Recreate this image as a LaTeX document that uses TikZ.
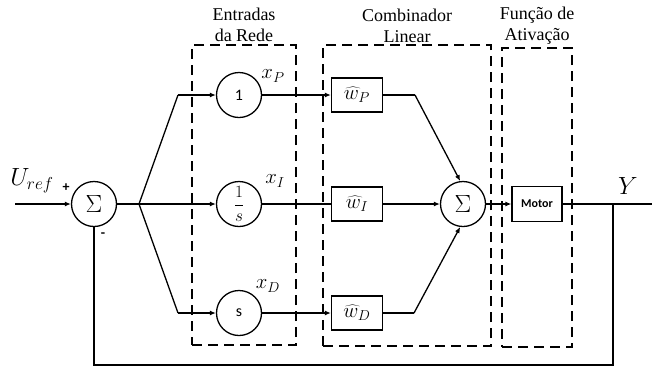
\documentclass[tikz,border=0pt]{standalone}
\usepackage{fontspec}
\setmainfont{Liberation Serif}
\newfontfamily\tms{Liberation Serif}
\newfontfamily\calib{Carlito}
\usetikzlibrary{arrows.meta}
\begin{document}
\begin{tikzpicture}[x=1pt,y=-1pt,line width=1.3pt,
  >={Latex[length=6pt,width=5pt]},
  sumc/.style={draw,circle,minimum size=45pt,inner sep=0pt,font=\fontsize{26}{26}\selectfont},
  inc/.style={draw,circle,minimum size=45pt,inner sep=0pt,font=\calib\fontsize{16}{16}\selectfont},
  wbox/.style={draw,rectangle,minimum width=51pt,minimum height=34pt,inner sep=0pt,font=\fontsize{21}{21}\selectfont},
  dbox/.style={draw,dashed,dash pattern=on 10pt off 6pt,line width=1.4pt,inner sep=0pt},
  ttl/.style={align=center,font=\tms\fontsize{18}{21}\selectfont,inner sep=0pt},
  lbl/.style={inner sep=0pt,font=\fontsize{21}{21}\selectfont}]
\useasboundingbox (0,0) rectangle (652,368);
% dashed groups
\node[dbox,minimum width=104pt,minimum height=300pt] (g1) at (244,195) {};
\node[dbox,minimum width=168pt,minimum height=301pt] (g2) at (407,195.5) {};
\node[dbox,minimum width=70pt,minimum height=299pt] (g3) at (537,197.5) {};
\node[ttl] (t1) at (244,25) {Entradas\\da Rede};
\node[ttl] (t2) at (407,26) {Combinador\\Linear};
\node[ttl] (t3) at (537,26) {Função de\\Ativação};
% blocks
\node[sumc] (s1) at (94,204) {$\Sigma$};
\node[inc] (cP) at (239,95) {1};
\node[inc] (cI) at (239,204) {$\displaystyle\frac{1}{s}$};
\node[inc] (cD) at (239,313) {s};
\node[wbox] (wP) at (357,95) {$\widehat{w}_P$};
\node[wbox] (wI) at (357,204) {$\widehat{w}_I$};
\node[wbox] (wD) at (357,313) {$\widehat{w}_D$};
\node[sumc] (s2) at (463,204) {$\Sigma$};
\node[draw,rectangle,minimum width=50pt,minimum height=35pt,inner sep=0pt,font=\calib\bfseries\fontsize{12}{12}\selectfont] (mot) at (537,204) {Motor};
% coordinates
\coordinate (in) at (15,204);
\coordinate (br) at (139,204);
\coordinate (bP) at (178,95);
\coordinate (bD) at (178,313);
\coordinate (kP) at (415,95);
\coordinate (kD) at (414,313);
\coordinate (out) at (652,204);
\coordinate (fb) at (613,204);
\coordinate (fb1) at (613,365);
\coordinate (fb2) at (94,365);
% labels
\node[lbl,font=\fontsize{25}{25}\selectfont] (uref) at (32,181) {$U_{ref}$};
\node[inner sep=0pt,font=\calib\bfseries\fontsize{14}{14}\selectfont] (plus) at (66,188) {+};
\node[inner sep=0pt,font=\calib\bfseries\fontsize{14}{14}\selectfont] (minus) at (103,235) {-};
\node[lbl] (xP) at (273,76) {$x_P$};
\node[lbl] (xI) at (275,181) {$x_I$};
\node[lbl] (xD) at (268,286) {$x_D$};
\node[lbl,font=\fontsize{25}{25}\selectfont] (Y) at (628,186) {$Y$};
% connectors
\draw[->] (in) -- (s1);
\draw (s1) -- (br);
\draw (br) -- (bP);
\draw[->] (bP) -- (cP);
\draw[->] (br) -- (cI);
\draw (br) -- (bD);
\draw[->] (bD) -- (cD);
\draw[->] (cP) -- (wP);
\draw (cI) -- (wI);
\draw[->] (cD) -- (wD);
\draw (wP) -- (kP);
\draw[->] (kP) -- (s2.97);
\draw[->] (wI) -- (s2);
\draw (wD) -- (kD);
\draw[->] (kD) -- (s2.263);
\draw[->] (s2) -- (mot);
\draw (mot) -- (out);
\draw (fb) -- (fb1) -- (fb2) -- (s1);
\end{tikzpicture}
\end{document}
